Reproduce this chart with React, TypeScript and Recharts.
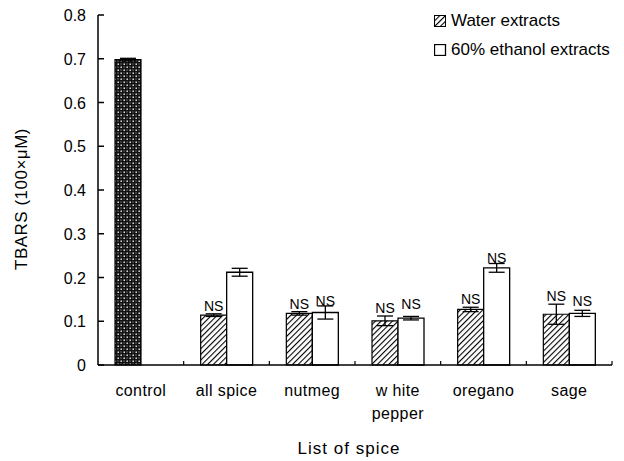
import { Bar, BarChart, Cell, ErrorBar, LabelList, XAxis, YAxis } from 'recharts'

const spices = ['control', 'all spice', 'nutmeg', 'w hite\npepper', 'oregano', 'sage']
const water = [0.698, 0.114, 0.118, 0.101, 0.127, 0.116]
const waterErr = [0.003, 0.003, 0.004, 0.011, 0.005, 0.023]
const ethanol = [null, 0.212, 0.12, 0.107, 0.222, 0.118]
const ethanolErr = [0, 0.009, 0.015, 0.004, 0.01, 0.007]
const yTicks = [0, 0.1, 0.2, 0.3, 0.4, 0.5, 0.6, 0.7, 0.8]

const rows = spices.map((name, i) => ({
  name,
  water: water[i],
  waterErr: waterErr[i],
  ethanol: ethanol[i],
  ethanolErr: ethanolErr[i],
}))

const FONT = 'Arial, "Liberation Sans", sans-serif'
const BAND = (612 - 98) / spices.length

function YTick(props: any) {
  const { x, y, payload } = props
  return (
    <g>
      <line x1={x + 12} x2={x + 18} y1={y} y2={y} stroke="#000" strokeWidth={1.5} />
      <text x={x} y={y} dy={6} textAnchor="end" fontSize={16} fontFamily={FONT} fill="#000">
        {payload.value === 0 ? '0' : payload.value.toFixed(1)}
      </text>
    </g>
  )
}

function XTick(props: any) {
  const { x, y, payload } = props
  const lines = String(payload.value).split('\n')
  return (
    <g>
      <line x1={x + BAND / 2} x2={x + BAND / 2} y1={y} y2={y - 4} stroke="#000" strokeWidth={1.2} />
      {lines.map((l, i) => (
        <text
          key={i}
          x={x}
          y={y + 31 + i * 23}
          textAnchor="middle"
          fontSize={16}
          letterSpacing={0.4}
          fontFamily={FONT}
          fill="#000"
        >
          {l}
        </text>
      ))}
    </g>
  )
}

function nsLabel(errKey: 'waterErr' | 'ethanolErr') {
  return (props: any) => {
    const { x, y, width, height, value, index } = props
    if (index === 0 || value == null) return null
    const err = rows[index][errKey]
    const perUnit = height / value
    return (
      <text
        x={x + width / 2}
        y={y - err * perUnit - 3}
        textAnchor="middle"
        fontSize={14}
        fontFamily={FONT}
        fill="#000"
      >
        NS
      </text>
    )
  }
}

function YLabel(props: any) {
  const { viewBox } = props
  const cy = viewBox.y + viewBox.height / 2 + 9
  return (
    <text
      x={21}
      y={cy}
      transform={`rotate(-90 21 ${cy})`}
      textAnchor="middle"
      dominantBaseline="central"
      fontSize={17}
      letterSpacing={0.5}
      fontFamily={FONT}
      fill="#000"
    >
      TBARS (100×μM)
    </text>
  )
}

function LegendBox() {
  return (
    <div style={{ fontFamily: FONT, fontSize: 17, color: '#000', lineHeight: '29px' }}>
      <div style={{ display: 'flex', alignItems: 'center' }}>
        <svg width={15} height={12} style={{ marginRight: 2 }}>
          <rect x={0.5} y={0.5} width={11} height={11} fill="url(#hatch)" stroke="#000" />
        </svg>
        Water extracts
      </div>
      <div style={{ display: 'flex', alignItems: 'center' }}>
        <svg width={15} height={12} style={{ marginRight: 2 }}>
          <rect x={0.5} y={0.5} width={11} height={11} fill="#fff" stroke="#000" strokeWidth={1.3} />
        </svg>
        60% ethanol extracts
      </div>
    </div>
  )
}

export default function App() {
  return (
    <div style={{ position: 'absolute', left: 0, top: 0, width: 624, height: 461, background: '#fff' }}>
      <BarChart
        width={624}
        height={461}
        data={rows}
        margin={{ top: 15, right: 12, left: 38, bottom: 66 }}
        barSize={26}
        barGap={0}
      >
        <defs>
          <pattern id="hatch" width={4} height={4} patternUnits="userSpaceOnUse" patternTransform="rotate(45)">
            <rect width={4} height={4} fill="#fff" />
            <line x1={0} y1={0} x2={0} y2={4} stroke="#000" strokeWidth={2.2} />
          </pattern>
          <pattern id="dots" width={6} height={6} patternUnits="userSpaceOnUse">
            <rect width={6} height={6} fill="#111" />
            <rect x={0.5} y={0.5} width={1.4} height={1.4} fill="#fff" />
            <rect x={3.5} y={3.5} width={1.4} height={1.4} fill="#fff" />
            <rect x={3.5} y={0.5} width={1} height={1} fill="#bbb" />
            <rect x={0.5} y={3.5} width={1} height={1} fill="#bbb" />
          </pattern>
        </defs>
        <XAxis
          dataKey="name"
          interval={0}
          height={30}
          axisLine={{ stroke: '#000', strokeWidth: 1.5 }}
          tickLine={false}
          tickSize={0}
          tickMargin={0}
          tick={<XTick />}
        />
        <YAxis
          width={60}
          domain={[0, 0.8]}
          ticks={yTicks}
          axisLine={{ stroke: '#000', strokeWidth: 1.5 }}
          tickLine={false}
          tickSize={0}
          tickMargin={12}
          tick={<YTick />}
          label={{ content: <YLabel /> }}
        />
        <Bar dataKey="water" fill="url(#hatch)" stroke="#000" strokeWidth={1.2} isAnimationActive={false}>
          {rows.map((r, i) => (
            <Cell key={r.name} fill={i === 0 ? 'url(#dots)' : 'url(#hatch)'} />
          ))}
          <ErrorBar dataKey="waterErr" width={8} stroke="#000" strokeWidth={1.3} />
          <LabelList dataKey="water" content={nsLabel('waterErr')} />
        </Bar>
        <Bar dataKey="ethanol" fill="#fff" stroke="#000" strokeWidth={1.3} isAnimationActive={false}>
          <ErrorBar dataKey="ethanolErr" width={8} stroke="#000" strokeWidth={1.3} />
          <LabelList dataKey="ethanol" content={nsLabel('ethanolErr')} />
        </Bar>
      </BarChart>
      <div style={{ position: 'absolute', left: 434, top: 6 }}>
        <LegendBox />
      </div>
      <div
        style={{
          position: 'absolute',
          left: 0,
          width: 698,
          top: 439,
          textAlign: 'center',
          fontFamily: FONT,
          fontSize: 17,
          letterSpacing: 1,
          color: '#000',
        }}
      >
        List of spice
      </div>
    </div>
  )
}
